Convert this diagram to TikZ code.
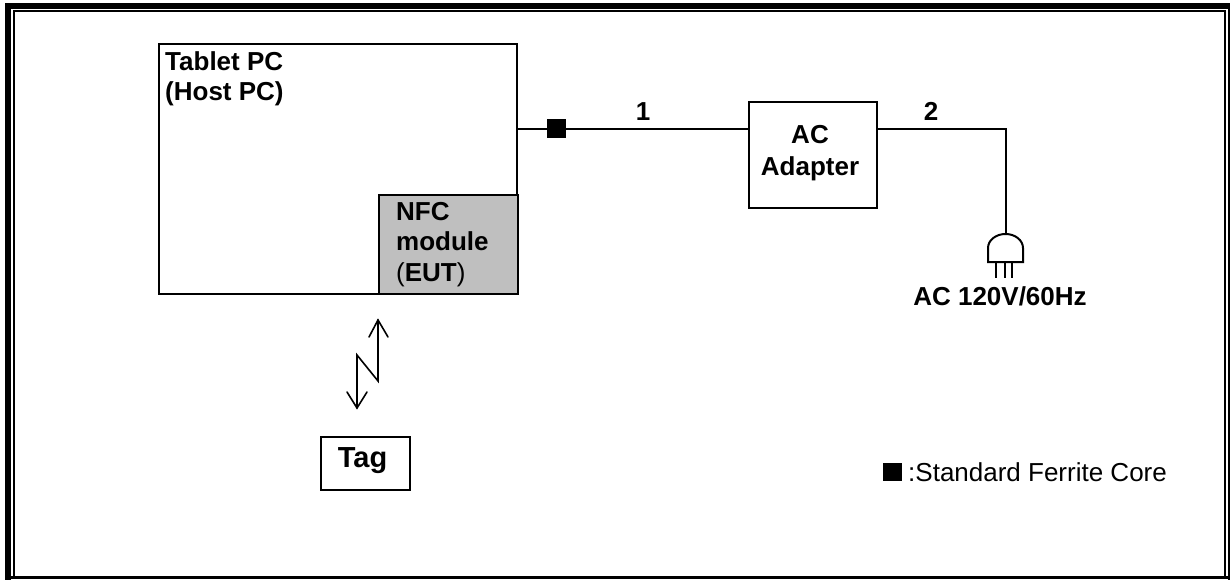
\documentclass[tikz,border=0pt]{standalone}
\usepackage{fontspec}
\setmainfont{Liberation Sans}
\begin{document}
\begin{tikzpicture}[x=1pt,y=-1pt,
  lbl/.style={font=\fontsize{26}{30.5}\selectfont\bfseries,inner sep=0pt,align=left},
  box/.style={draw=black,line width=2pt,inner sep=0pt},
  wire/.style={draw=black,line width=2pt},
  frameline/.style={fill=black},
  core/.style={fill=black,inner sep=0pt},
  arrowline/.style={draw=black,line width=1.6pt,line cap=round,line join=miter}]
\useasboundingbox (0,0) rectangle (1230,580);
% frame
\fill[frameline] (5,3) rectangle (1230,9);
\fill[frameline] (5,3) rectangle (11,580);
\fill[frameline] (13,10) rectangle (1226,12);
\fill[frameline] (13,10) rectangle (15,576);
\fill[frameline] (1224,10) rectangle (1226,576);
\fill[frameline] (1228,3) rectangle (1230,580);
\fill[frameline] (5,576) rectangle (1230,579);
% host
\node[box,minimum width=358pt,minimum height=250pt,anchor=north west] (host) at (158,43) {};
\node[lbl,anchor=north west] (hostlbl) at (165,51) {Tablet PC\\(Host PC)};
\node[box,fill=black!25,minimum width=139pt,minimum height=99pt,anchor=north west] (nfc) at (378,194) {};
\node[lbl,anchor=north west] (nfclbl) at (396,202) {NFC\\module\\\textmd{(}EUT\textmd{)}};
% ferrite and adapter
\node[core,minimum width=19pt,minimum height=19pt] (ferrite) at (556.5,129) {};
\node[box,minimum width=128pt,minimum height=106pt,anchor=north west] (ad) at (748,101) {};
\node[inner sep=0pt,anchor=north,align=center,font=\fontsize{26}{32}\selectfont\bfseries] (adlbl) at (810,125) {AC\\Adapter};
\coordinate (hostport) at (516,129);
\coordinate (bend) at (1005.5,129);
\coordinate (plugtop) at (1005.5,234);
\draw[wire] (hostport) -- (ferrite) -- (ad.west |- hostport);
\draw[wire] (ad.east |- bend) -- (bend) -- (plugtop);
\node[lbl,anchor=base] (one) at (643,121) {1};
\node[lbl,anchor=base] (two) at (931,121) {2};
% plug
\draw[wire] (988,262) -- (988,248) arc[start angle=180,end angle=360,x radius=17.5,y radius=14] -- (1023,262) -- cycle;
\draw[draw=black,line width=1.4pt] (996,262) -- (996,278) (1005,262) -- (1005,278) (1012,262) -- (1012,278);
\node[lbl,anchor=base] (ac) at (1000,305) {AC 120V/60Hz};
% arrows
\coordinate (up) at (378,320);
\coordinate (mid1) at (378,381);
\coordinate (mid2) at (357,355);
\coordinate (down) at (357,408);
\draw[arrowline] (up) -- (mid1) -- (mid2) -- (down);
\draw[arrowline] (369,337) -- (up) -- (388,337);
\draw[arrowline] (347,392) -- (down) -- (367,392);
\node[box,minimum width=89pt,minimum height=53pt,anchor=north west] (tag) at (320,436) {};
\node[lbl,anchor=base,font=\fontsize{29}{32}\selectfont\bfseries] (taglbl) at (362.5,467) {Tag};
% legend
\node[core,minimum width=19pt,minimum height=18pt,anchor=north west] (lgd) at (883,463) {};
\node[anchor=base west,inner sep=0pt,font=\fontsize{26}{30}\selectfont] (lgdt) at (908,481) {:Standard Ferrite Core};
\end{tikzpicture}
\end{document}
